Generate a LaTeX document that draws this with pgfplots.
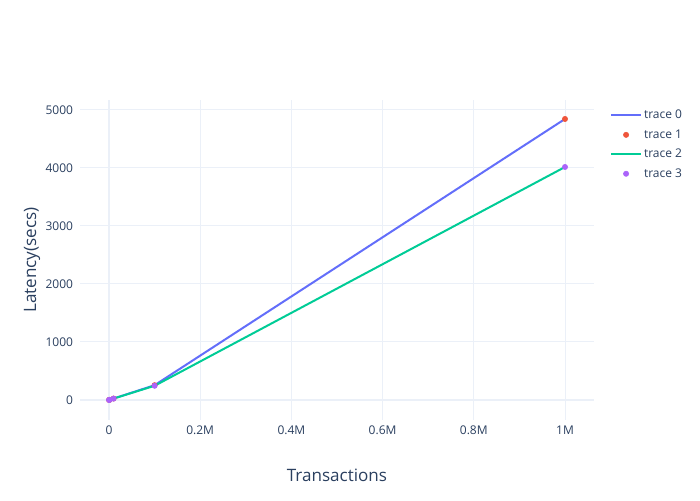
\documentclass[border=0pt]{standalone}
\usepackage{pgfplots}
\pgfplotsset{compat=1.18}
\usepackage{fontspec}
\setmainfont{Open Sans}
\definecolor{pblue}{HTML}{636EFA}
\definecolor{pred}{HTML}{EF553B}
\definecolor{pgreen}{HTML}{00CC96}
\definecolor{ppurple}{HTML}{AB63FA}
\definecolor{pgrid}{HTML}{EBF0F8}
\definecolor{ptext}{HTML}{2A3F5F}
\pgfplotsset{
  linelegend/.style={legend image code/.code={\draw[##1] (0pt,0pt) -- (22.5pt,0pt);}},
  marklegend/.style={legend image code/.code={\draw[mark repeat=2,mark phase=2,##1] plot coordinates {(0pt,0pt) (11.25pt,0pt) (22.5pt,0pt)};}},
}
\begin{document}
\begin{tikzpicture}
\begin{axis}[
  at={(60pt,60pt)}, anchor=south west,
  scale only axis, width=385.5pt, height=240pt,
  xmin=-63600, xmax=1063600,
  ymin=-345, ymax=5172,
  axis line style={draw=none},
  major tick length=0pt,
  xtick={200000,400000,600000,800000,1000000},
  xticklabels={0.2M,0.4M,0.6M,0.8M,1M},
  extra x ticks={0}, extra x tick labels={0},
  extra x tick style={grid style={pgrid, line width=1.5pt}},
  ytick={1000,2000,3000,4000,5000},
  extra y ticks={0}, extra y tick labels={0},
  extra y tick style={grid style={pgrid, line width=1.5pt}},
  grid=major, grid style={pgrid, line width=0.75pt},
  /pgf/number format/assume math mode=true,
  /pgf/number format/1000 sep={},
  scaled x ticks=false,
  tick label style={font=\fontsize{9pt}{10pt}\selectfont, text=ptext},
  yticklabel style={inner sep=0pt, xshift=-5pt},
  xticklabel style={inner sep=0pt, yshift=-4pt},
  xlabel={Transactions}, ylabel={Latency(secs)},
  label style={font=\fontsize{12.8pt}{14pt}\selectfont, text=ptext},
  xlabel style={at={(axis description cs:0.5,-0.172)}, anchor=center},
  ylabel style={at={(axis description cs:-0.0934,0.5)}, anchor=center},
  legend style={at={(axis description cs:1.023,0.984)}, anchor=north west,
    draw=none, fill=none, font=\fontsize{9pt}{10pt}\selectfont, text=ptext,
    row sep=3.6pt, nodes={inner sep=1.5pt}},
  legend cell align=left,
]
\addplot[pblue, line width=1.5pt, no marks, linelegend]
  coordinates {(100,0.3) (1000,2.5) (10000,25) (100000,255) (1000000,4845)};
\addlegendentry{trace 0}
\addplot[pred, only marks, mark=*, mark size=2pt, mark options={solid, line width=0.4pt}, marklegend]
  coordinates {(100,0.3) (1000,2.5) (10000,25) (100000,255) (1000000,4845)};
\addlegendentry{trace 1}
\addplot[pgreen, line width=1.5pt, no marks, linelegend]
  coordinates {(100,0.3) (1000,2.4) (10000,24) (100000,245) (1000000,4017)};
\addlegendentry{trace 2}
\addplot[ppurple, only marks, mark=*, mark size=2pt, mark options={solid, line width=0.4pt}, marklegend]
  coordinates {(100,0.3) (1000,2.4) (10000,24) (100000,245) (1000000,4017)};
\addlegendentry{trace 3}
\end{axis}
\pgfresetboundingbox
\path[use as bounding box] (0,0) rectangle (525pt,375pt);
\end{tikzpicture}
\end{document}
